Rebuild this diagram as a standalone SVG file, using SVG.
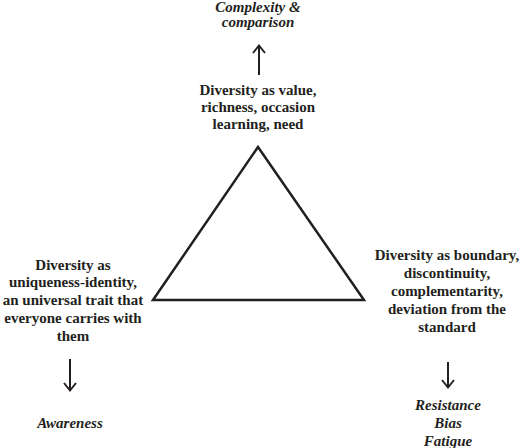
<svg xmlns="http://www.w3.org/2000/svg" width="520" height="448" viewBox="0 0 520 448">
<defs>
<style>
.b{font-family:"Liberation Serif","Times New Roman",Times,serif;font-weight:bold;font-size:15px;fill:#231f20;text-anchor:middle}
.i{font-family:"Liberation Serif","Times New Roman",Times,serif;font-weight:bold;font-style:italic;font-size:15px;fill:#231f20;text-anchor:middle}
.a{fill:none;stroke:#231f20;stroke-width:2}
</style>
</defs>
<rect width="520" height="448" fill="#fff"/>
<g id="triangle">
<polygon points="258,147 153,300 364,300" fill="none" stroke="#231f20" stroke-width="2.5" stroke-linejoin="miter"/>
</g>
<g id="top-outcome">
<text class="i" x="258" y="12">Complexity &amp;</text>
<text class="i" x="258" y="27">comparison</text>
</g>
<g id="top-node">
<text class="b" x="258" y="95">Diversity as value,</text>
<text class="b" x="258" y="112">richness, occasion</text>
<text class="b" x="258" y="129">learning, need</text>
</g>
<g id="left-node">
<text class="b" x="73" y="270">Diversity as</text>
<text class="b" x="73" y="287">uniqueness-identity,</text>
<text class="b" x="73" y="305">an universal trait that</text>
<text class="b" x="73" y="323">everyone carries with</text>
<text class="b" x="73" y="341">them</text>
</g>
<g id="left-outcome">
<text class="i" x="70" y="428">Awareness</text>
</g>
<g id="right-node">
<text class="b" x="447" y="260">Diversity as boundary,</text>
<text class="b" x="447" y="278">discontinuity,</text>
<text class="b" x="447" y="296">complementarity,</text>
<text class="b" x="447" y="314">deviation from the</text>
<text class="b" x="447" y="332">standard</text>
</g>
<g id="right-outcome">
<text class="i" x="448" y="410">Resistance</text>
<text class="i" x="448" y="428">Bias</text>
<text class="i" x="448" y="446">Fatigue</text>
</g>
<g id="connectors">
<path class="a" d="M259,75 V46 M253,53 L259,45.5 L265,53"/>
<path class="a" d="M70,359 V390 M64,383 L70,390.5 L76,383"/>
<path class="a" d="M448,362 V387 M442,380 L448,387.5 L454,380"/>
</g>
</svg>
